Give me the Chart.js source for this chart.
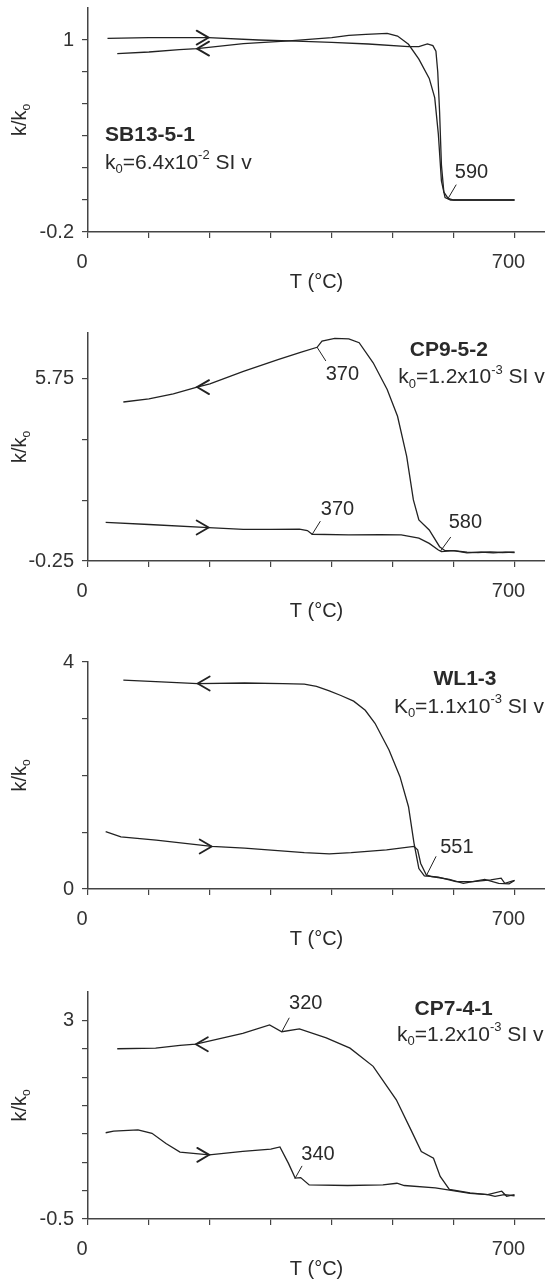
<!DOCTYPE html>
<html>
<head>
<meta charset="utf-8">
<script src="https://cdn.jsdelivr.net/npm/chart.js@4.4.0/dist/chart.umd.min.js"></script>
<style>
    body { margin: 0; background: #fff; overflow: hidden; }
    #wrap { position: relative; width: 545px; height: 1279px; }
    #wrap canvas { position: absolute; left: 0; }
</style>
</head>
<body>
<div id="wrap">
    <canvas id="c1" width="545" height="314" style="top:-22px"></canvas>
    <canvas id="c2" width="545" height="318" style="top:303px"></canvas>
    <canvas id="c3" width="545" height="317" style="top:632px"></canvas>
    <canvas id="c4" width="545" height="317" style="top:962px"></canvas>
</div>
<script>
// Temperature axis, shared by all four panels
const tempTicks = [0, 100, 200, 300, 400, 500, 600, 700];
const tempLabels = [0, 700];

// SB13-5-1
const sb13HeatT = [32, 100, 198, 280, 330, 400, 460, 526, 543, 557, 566, 571, 574, 577, 580, 584, 591, 600, 650, 700];
const sb13HeatK = [1.01, 1.015, 1.015, 1.0, 0.994, 0.985, 0.975, 0.958, 0.958, 0.975, 0.965, 0.93, 0.80, 0.55, 0.22, 0.05, 0.01, 0.0, 0.0, 0.0];
const sb13CoolT = [48, 100, 150, 179, 255, 330, 400, 428, 456, 491, 508, 526, 543, 560, 569, 575, 580, 586, 595, 650, 700];
const sb13CoolK = [0.915, 0.925, 0.94, 0.946, 0.977, 0.994, 1.015, 1.029, 1.035, 1.042, 1.025, 0.973, 0.88, 0.76, 0.64, 0.41, 0.12, 0.015, 0.0, 0.0, 0.0];
const sb13Ticks = [-0.2, 0, 0.2, 0.4, 0.6, 0.8, 1];
const sb13Labels = [-0.2, 1];
const sb13Arrows = [[198, 1.015, 1], [179, 0.946, -1]];

// CP9-5-2
const cp952HeatT = [29, 100, 198, 255, 300, 347, 360, 368, 428, 480, 514, 543, 560, 575, 580, 600, 622, 645, 665, 685, 700];
const cp952HeatK = [1.02, 0.95, 0.85, 0.79, 0.79, 0.80, 0.75, 0.63, 0.61, 0.62, 0.61, 0.50, 0.33, 0.11, 0.06, 0.09, 0.02, 0.04, 0.02, 0.04, 0.03];
const cp952CoolT = [58, 100, 140, 179, 200, 255, 313, 350, 376, 384, 405, 428, 445, 468, 491, 508, 523, 534, 543, 560, 577, 586, 600, 622, 640, 660, 680, 700];
const cp952CoolK = [4.98, 5.08, 5.25, 5.47, 5.58, 5.99, 6.38, 6.62, 6.78, 6.98, 7.07, 7.06, 6.93, 6.27, 5.39, 4.51, 3.19, 1.76, 1.10, 0.77, 0.22, 0.09, 0.09, 0.04, 0.03, 0.05, 0.03, 0.04];
const cp952Ticks = [-0.25, 1.75, 3.75, 5.75];
const cp952Labels = [-0.25, 5.75];
const cp952Arrows = [[198, 0.85, 1], [179, 5.47, -1]];

// WL1-3
const wl13HeatT = [29, 54, 112, 203, 257, 355, 396, 432, 490, 535, 541, 546, 555, 564, 593, 616, 651, 674, 691, 700];
const wl13HeatK = [1.01, 0.92, 0.86, 0.75, 0.72, 0.64, 0.62, 0.64, 0.69, 0.75, 0.69, 0.45, 0.25, 0.22, 0.17, 0.10, 0.17, 0.10, 0.09, 0.15];
const wl13CoolT = [58, 120, 180, 257, 320, 355, 375, 396, 415, 436, 455, 471, 494, 512, 526, 535, 543, 552, 575, 604, 632, 661, 678, 684, 700];
const wl13CoolK = [3.68, 3.65, 3.62, 3.63, 3.62, 3.61, 3.57, 3.49, 3.41, 3.31, 3.15, 2.92, 2.45, 1.98, 1.45, 0.81, 0.36, 0.23, 0.21, 0.13, 0.13, 0.16, 0.19, 0.10, 0.15];
const wl13Ticks = [0, 1, 2, 3, 4];
const wl13Labels = [0, 4];
const wl13Arrows = [[203, 0.75, 1], [180, 3.62, -1]];

// CP7-4-1
const cp741HeatT = [29, 42, 82, 105, 128, 151, 199, 254, 300, 315, 329, 340, 349, 363, 426, 484, 507, 519, 570, 627, 656, 668, 683, 700];
const cp741HeatK = [1.02, 1.05, 1.07, 1.01, 0.83, 0.68, 0.63, 0.69, 0.73, 0.77, 0.48, 0.22, 0.23, 0.10, 0.09, 0.10, 0.13, 0.09, 0.05, -0.05, -0.07, -0.10, -0.07, -0.09];
const cp741CoolT = [48, 111, 151, 177, 254, 298, 318, 347, 391, 430, 468, 506, 530, 547, 567, 578, 593, 627, 656, 679, 687, 700];
const cp741CoolK = [2.50, 2.51, 2.56, 2.58, 2.77, 2.92, 2.80, 2.85, 2.69, 2.51, 2.19, 1.60, 1.07, 0.69, 0.57, 0.25, 0.02, -0.04, -0.07, -0.01, -0.10, -0.07];
const cp741Ticks = [-0.5, 0, 0.5, 1, 1.5, 2, 2.5, 3];
const cp741Labels = [-0.5, 3];
const cp741Arrows = [[199, 0.63, 1], [177, 2.58, -1]];

const FONT = '"Liberation Sans", Arial, sans-serif';
const INK = '#222';

// temperature markers: leader from a point on the curve, label beside it (data coords)
const panels = [
    {
        id: 'c1', heat: [sb13HeatT, sb13HeatK], cool: [sb13CoolT, sb13CoolK],
        yMin: -0.2, yMax: 1.2, yTicks: sb13Ticks, yLabels: sb13Labels, arrows: sb13Arrows,
        padTop: 30,
        marks: [{ text: '590', from: [591, 0.01], to: [604, 0.094], at: [602, 0.169] }],
        name: { text: 'SB13-5-1', at: [28, 0.406] },
        k0: { parts: [['k'], ['0', 'sub'], ['=6.4x10'], ['-2', 'sup'], [' SI v']], at: [28, 0.231] }
    },
    {
        id: 'c2', heat: [cp952HeatT, cp952HeatK], cool: [cp952CoolT, cp952CoolK],
        yMin: -0.25, yMax: 7.25, yTicks: cp952Ticks, yLabels: cp952Labels, arrows: cp952Arrows,
        padTop: 30,
        marks: [
            { text: '370', from: [376, 6.78], to: [390, 6.34], at: [390, 5.88] },
            { text: '370', from: [368, 0.63], to: [381, 1.05], at: [382, 1.45] },
            { text: '580', from: [579, 0.09], to: [595, 0.53], at: [592, 1.01] }
        ],
        name: { text: 'CP9-5-2', at: [528, 6.70] },
        k0: { parts: [['k'], ['0', 'sub'], ['=1.2x10'], ['-3', 'sup'], [' SI v']], at: [509, 5.78] }
    },
    {
        id: 'c3', heat: [wl13HeatT, wl13HeatK], cool: [wl13CoolT, wl13CoolK],
        yMin: 0, yMax: 4, yTicks: wl13Ticks, yLabels: wl13Labels, arrows: wl13Arrows,
        padTop: 30,
        marks: [{ text: '551', from: [555, 0.23], to: [571, 0.57], at: [578, 0.735] }],
        name: { text: 'WL1-3', at: [567, 3.70] },
        k0: { parts: [['K'], ['0', 'sub'], ['=1.1x10'], ['-3', 'sup'], [' SI v']], at: [502, 3.21] }
    },
    {
        id: 'c4', heat: [cp741HeatT, cp741HeatK], cool: [cp741CoolT, cp741CoolK],
        yMin: -0.5, yMax: 3.5, yTicks: cp741Ticks, yLabels: cp741Labels, arrows: cp741Arrows,
        padTop: 30,
        marks: [
            { text: '320', from: [318, 2.80], to: [330, 3.04], at: [330, 3.29] },
            { text: '340', from: [340, 0.22], to: [351, 0.43], at: [350, 0.64] }
        ],
        name: { text: 'CP7-4-1', at: [536, 3.20] },
        k0: { parts: [['k'], ['0', 'sub'], ['=1.2x10'], ['-3', 'sup'], [' SI v']], at: [507, 2.74] }
    }
];

function series(ts, ks) {
    return ts.map((t, i) => ({ x: t, y: ks[i] }));
}

function partFont(part, size, bold) {
    const small = part[1] ? Math.round(size * 0.6) : size;
    return (bold ? 'bold ' : '') + small + 'px ' + FONT;
}

function richWidth(ctx, parts, size) {
    let w = 0;
    parts.forEach(p => { ctx.font = partFont(p, size); w += ctx.measureText(p[0]).width; });
    return w;
}

// draws text with sub/superscript pieces, left aligned, y = middle
function richText(ctx, parts, x, y, size) {
    let cx = x;
    ctx.textAlign = 'left';
    ctx.textBaseline = 'middle';
    parts.forEach(p => {
        ctx.font = partFont(p, size);
        const dy = p[1] === 'sub' ? size * 0.32 : p[1] === 'sup' ? -size * 0.36 : 0;
        ctx.fillText(p[0], cx, y + dy);
        cx += ctx.measureText(p[0]).width;
    });
}

const decor = {
    id: 'decor',
    afterDraw(chart, args, opts) {
        const p = opts.panel;
        const { ctx, chartArea } = chart;
        const sx = chart.scales.x, sy = chart.scales.y;
        const px = d => [sx.getPixelForValue(d[0]), sy.getPixelForValue(d[1])];
        ctx.save();
        ctx.strokeStyle = INK;
        ctx.fillStyle = '#2a2a2a';

        // direction chevrons
        ctx.lineWidth = 1.8;
        ctx.lineCap = 'round';
        p.arrows.forEach(a => {
            const [x, y] = px(a);
            ctx.beginPath();
            ctx.moveTo(x - a[2] * 12, y - 7);
            ctx.lineTo(x, y);
            ctx.lineTo(x - a[2] * 12, y + 7);
            ctx.stroke();
        });

        // temperature markers
        ctx.lineWidth = 1;
        p.marks.forEach(m => {
            const a = px(m.from), b = px(m.to), t = px(m.at);
            ctx.beginPath();
            ctx.moveTo(a[0], a[1]);
            ctx.lineTo(b[0], b[1]);
            ctx.stroke();
            ctx.font = '20px ' + FONT;
            ctx.textAlign = 'left';
            ctx.textBaseline = 'middle';
            ctx.fillText(m.text, t[0], t[1]);
        });

        // sample name and k0
        const n = px(p.name.at);
        ctx.font = 'bold 21px ' + FONT;
        ctx.textAlign = 'left';
        ctx.textBaseline = 'middle';
        ctx.fillText(p.name.text, n[0], n[1]);
        const k = px(p.k0.at);
        richText(ctx, p.k0.parts, k[0], k[1], 21);

        // axis titles
        const xt = (chartArea.left + chartArea.right) / 2;
        ctx.font = '20px ' + FONT;
        ctx.textAlign = 'center';
        ctx.fillText('T (\u00B0C)', xt, chartArea.bottom + 50);

        const yParts = [['k/k'], ['o', 'sub']];
        ctx.translate(20, (chartArea.top + chartArea.bottom) / 2);
        ctx.rotate(-Math.PI / 2);
        richText(ctx, yParts, -richWidth(ctx, yParts, 20) / 2, 0, 20);
        ctx.restore();
    }
};

panels.forEach(p => {
    const canvas = document.getElementById(p.id);
    new Chart(canvas, {
        type: 'line',
        data: {
            datasets: [
                { data: series(p.heat[0], p.heat[1]), borderColor: INK, borderWidth: 1.3, pointRadius: 0, tension: 0, fill: false },
                { data: series(p.cool[0], p.cool[1]), borderColor: INK, borderWidth: 1.3, pointRadius: 0, tension: 0, fill: false }
            ]
        },
        options: {
            responsive: false,
            animation: false,
            devicePixelRatio: 1,
            layout: { padding: { top: p.padTop, left: 0, right: 0, bottom: 0 } },
            plugins: {
                legend: { display: false },
                tooltip: { enabled: false },
                decor: { panel: p }
            },
            scales: {
                x: {
                    type: 'linear',
                    min: 0,
                    max: 750,
                    afterBuildTicks: axis => { axis.ticks = tempTicks.map(v => ({ value: v })); },
                    afterFit: axis => { axis.height = 60; },
                    grid: { drawOnChartArea: false, drawTicks: true, tickLength: 6, color: '#444', lineWidth: 1.2 },
                    border: { display: true, color: '#444', width: 1.5 },
                    ticks: {
                        autoSkip: false,
                        maxRotation: 0,
                        padding: 12,
                        labelOffset: -6,
                        color: '#333',
                        font: { family: FONT, size: 20 },
                        callback: v => tempLabels.includes(v) ? String(v) : ''
                    }
                },
                y: {
                    type: 'linear',
                    min: p.yMin,
                    max: p.yMax,
                    afterBuildTicks: axis => { axis.ticks = p.yTicks.map(v => ({ value: v })); },
                    afterFit: axis => { axis.width = 88; },
                    grid: { drawOnChartArea: false, drawTicks: true, tickLength: 6, color: '#444', lineWidth: 1.2 },
                    border: { display: true, color: '#444', width: 1.5 },
                    ticks: {
                        autoSkip: false,
                        padding: 8,
                        color: '#333',
                        font: { family: FONT, size: 20 },
                        callback: v => p.yLabels.includes(v) ? String(v) : ''
                    }
                }
            }
        },
        plugins: [decor]
    });
});
</script>
</body>
</html>
